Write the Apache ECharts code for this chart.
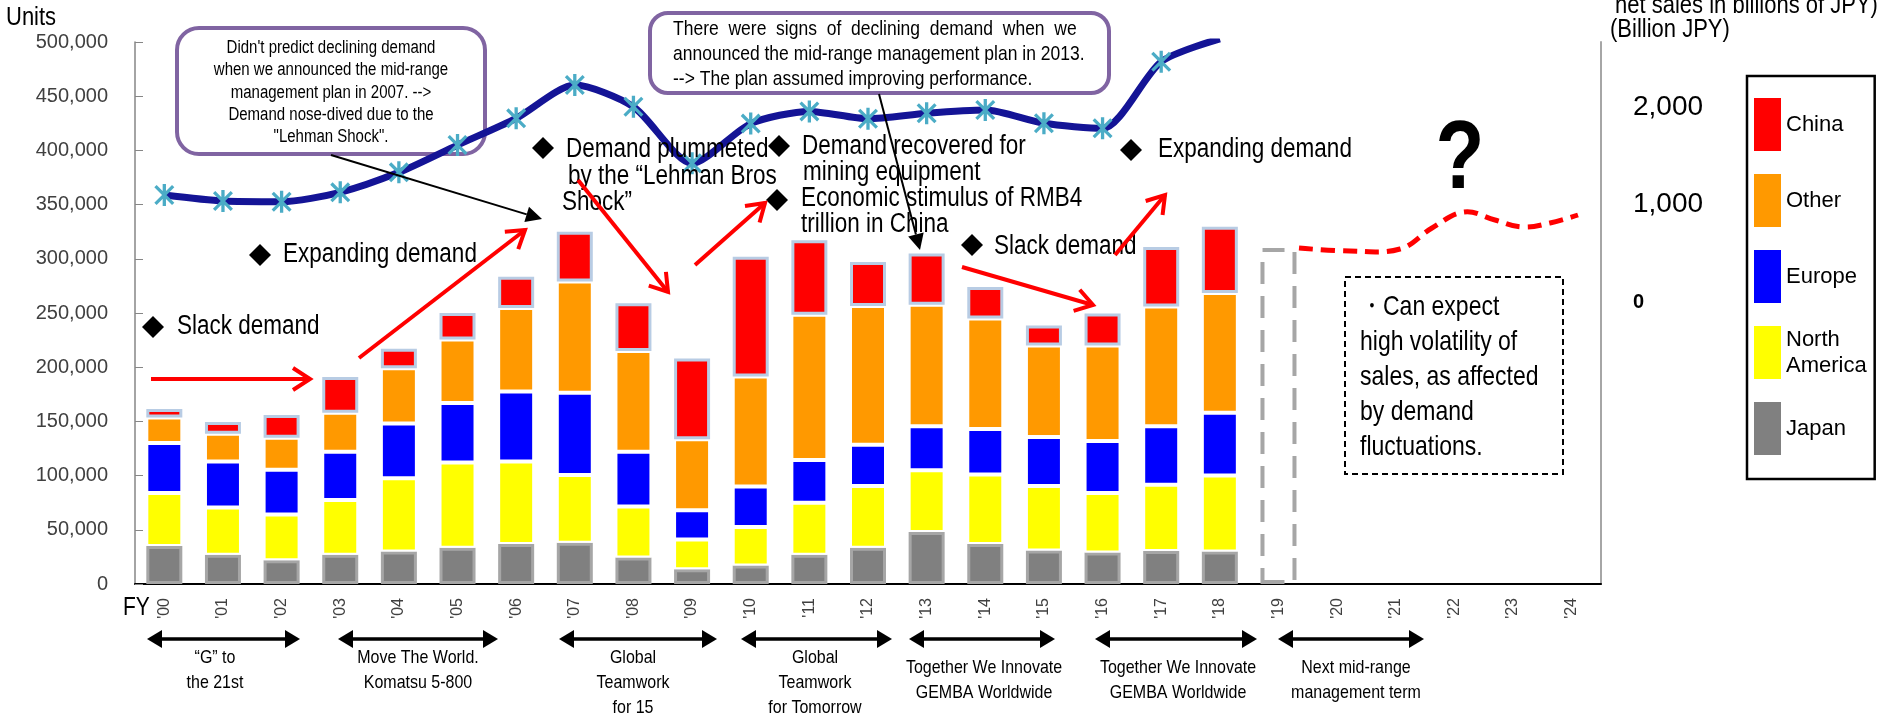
<!DOCTYPE html>
<html>
<head>
<meta charset="utf-8">
<script src="https://cdn.jsdelivr.net/npm/echarts@6/dist/echarts.min.js"></script>
<style>
  html, body { margin: 0; padding: 0; background: #fff; }
  #chart { width: 1880px; height: 717px; }
</style>
</head>
<body>
<div id="chart"></div>
<script>
// 年度(FY)
const years = ["'00", "'01", "'02", "'03", "'04", "'05", "'06", "'07", "'08", "'09", "'10", "'11", "'12",
    "'13", "'14", "'15", "'16", "'17", "'18", "'19", "'20", "'21", "'22", "'23", "'24"];

// 地区别销量 (units), FY00 - FY18
const japan = [35000, 27000, 22000, 27000, 30000, 33500, 37000, 38000, 24500, 13500, 17000, 27000, 33500, 48000, 37000, 31000, 29000, 30500, 30000];
const northAmerica = [49000, 43500, 42000, 50500, 67500, 78500, 76000, 62500, 47000, 27500, 35500, 48000, 57000, 57000, 64000, 59500, 55000, 61000, 70000];
const europe = [46000, 42500, 41500, 44500, 50500, 55000, 64500, 76000, 50500, 27000, 37500, 39500, 38000, 40500, 42000, 45000, 48000, 54000, 58000];
const other = [23500, 25500, 29500, 36000, 51000, 58500, 77000, 102500, 93000, 65500, 101500, 134000, 128000, 112000, 102000, 84500, 88000, 110500, 110500];
const china = [8000, 11000, 21000, 33000, 18000, 24500, 29000, 46000, 44000, 74500, 110500, 68500, 40500, 47500, 29000, 18500, 29500, 55000, 61000];
// FY19 虚线框
const fy19Outline = ['-', '-', '-', '-', '-', '-', '-', '-', '-', '-', '-', '-', '-', '-', '-', '-', '-', '-', '-', 310000];
// 销售额 (billion JPY)
const netSales = [1097, 1036, 1029, 1125, 1330, 1610, 1884, 2226, 2003, 1423, 1830, 1955, 1880, 1936, 1969, 1833, 1782, 2465, 2700];

const rightTicks = [0, 1000, 2000];

const FONT = "'Liberation Sans', Arial, sans-serif";
// 原图文字偏瘦高, 纵向拉伸一点
const SY = 1.2;

// 补齐到25个类别
function pad(arr) {
    return arr.concat(new Array(years.length - arr.length).fill('-'));
}

// ---------------- 注释图形 ----------------
const graphics = [];

function text(x, y, s, size, o) {
    o = o || {};
    if (o.lineHeight) o.lineHeight = o.lineHeight / SY;
    graphics.push({
        type: 'text', z: 10, x: x, y: y, scaleY: SY,
        style: Object.assign({
            text: s, fontSize: size, fontFamily: FONT, fill: '#000',
            align: 'left', verticalAlign: 'middle'
        }, o)
    });
}

function diamond(cx, cy) {
    graphics.push({
        type: 'polygon', z: 10,
        shape: {points: [[cx, cy - 11], [cx + 11, cy], [cx, cy + 11], [cx - 11, cy]]},
        style: {fill: '#000'}
    });
}

function head(x1, y1, x2, y2, len, half) {
    const a = Math.atan2(y2 - y1, x2 - x1);
    const bx = x2 - len * Math.cos(a), by = y2 - len * Math.sin(a);
    return {
        base: [bx, by],
        pts: [[bx + half * Math.sin(a), by - half * Math.cos(a)], [x2, y2], [bx - half * Math.sin(a), by + half * Math.cos(a)]]
    };
}

// 红色开口箭头
function redArrow(x1, y1, x2, y2) {
    const h = head(x1, y1, x2, y2, 17, 11);
    graphics.push({type: 'line', z: 10, shape: {x1: x1, y1: y1, x2: x2, y2: y2}, style: {stroke: '#ff0000', lineWidth: 4}});
    graphics.push({type: 'polyline', z: 10, shape: {points: h.pts}, style: {stroke: '#ff0000', lineWidth: 4, fill: null}});
}

// 黑色实心箭头
function blackArrow(x1, y1, x2, y2, w, len, half) {
    const h = head(x1, y1, x2, y2, len, half);
    graphics.push({type: 'line', z: 10, shape: {x1: x1, y1: y1, x2: h.base[0], y2: h.base[1]}, style: {stroke: '#000', lineWidth: w}});
    graphics.push({type: 'polygon', z: 10, shape: {points: h.pts}, style: {fill: '#000'}});
}

function doubleArrow(x1, x2, y) {
    blackArrow(x1 + 10, y, x2, y, 3, 15, 9);
    blackArrow(x2 - 10, y, x1, y, 3, 15, 9);
}

// 左上圆角框
graphics.push({
    type: 'rect', z: 1, shape: {x: 177, y: 28, width: 308, height: 126, r: 22},
    style: {fill: '#fff', stroke: '#8064A2', lineWidth: 4}
});
text(331, 37, "Didn't predict declining demand\nwhen we announced the mid-range\nmanagement plan in 2007. -->\nDemand nose-dived due to the\n\"Lehman Shock\".", 15,
    {align: 'center', verticalAlign: 'top', lineHeight: 22.3});

// 中间圆角框
graphics.push({
    type: 'rect', z: 1, shape: {x: 650, y: 13, width: 459, height: 80, r: 18},
    style: {fill: '#fff', stroke: '#8064A2', lineWidth: 4}
});
text(673, 29, 'There  were  signs  of  declining  demand  when  we', 17.5);
text(673, 54, 'announced the mid-range management plan in 2013.', 17.5);
text(673, 79, '--> The plan assumed improving performance.', 17.5);

blackArrow(331, 155, 542, 219, 2, 16, 8);
blackArrow(879, 94, 920, 250, 2, 16, 8);

// 菱形注释
diamond(153, 327); text(177, 327, 'Slack demand', 22.5);
diamond(260, 255); text(283, 255, 'Expanding demand', 22.5);
diamond(543, 148); text(566, 150, 'Demand plummeted', 22.5);
text(568, 177, 'by the \u201cLehman Bros', 22.5);
text(562, 203, 'Shock\u201d', 22.5);
diamond(779, 146); text(802, 147, 'Demand recovered for', 22.5);
text(803, 173, 'mining equipment', 22.5);
diamond(777, 200); text(801, 199, 'Economic stimulus of RMB4', 22.5);
text(801, 225, 'trillion in China', 22.5);
diamond(972, 245); text(994, 247, 'Slack demand', 22.5);
diamond(1131, 150); text(1158, 150, 'Expanding demand', 22.5);

// 红色箭头
[[151, 379, 310, 379], [359, 358, 525, 230], [578, 180, 668, 292],
    [695, 265, 765, 203], [962, 267, 1093, 305], [1115, 255, 1165, 195]].forEach(a => redArrow(a[0], a[1], a[2], a[3]));

// 未来的红色虚线
graphics.push({
    type: 'polyline', z: 10,
    shape: {points: [[1299, 248], [1350, 251], [1400, 249], [1432, 228], [1464, 212], [1495, 220], [1522, 227], [1550, 223], [1578, 215]], smooth: 0.4},
    style: {stroke: '#ff0000', lineWidth: 5, lineDash: [14, 8], fill: null}
});
text(1460, 162, '?', 80, {fontWeight: 'bold', align: 'center'});

// 虚线说明框
graphics.push({
    type: 'rect', z: 10, shape: {x: 1345, y: 277, width: 218, height: 197},
    style: {fill: null, stroke: '#000', lineWidth: 2, lineDash: [6, 4]}
});
text(1360, 290, '\u30fbCan expect\nhigh volatility of\nsales, as affected\nby demand\nfluctuations.', 23,
    {verticalAlign: 'top', lineHeight: 35});

// 轴标题
text(6, 18, 'Units', 22);
text(1615, 6, 'net sales in billions of JPY)', 22);
text(1610, 30, '(Billion JPY)', 22);
text(123, 608, 'FY', 21);

// 中期经营计划
const periods = [
    [147, 300, 215, ['\u201cG\u201d to', 'the 21st'], 658],
    [338, 498, 418, ['Move The World.', 'Komatsu 5-800'], 658],
    [559, 717, 633, ['Global', 'Teamwork', 'for 15'], 658],
    [741, 892, 815, ['Global', 'Teamwork', 'for Tomorrow'], 658],
    [909, 1055, 984, ['Together We Innovate', 'GEMBA Worldwide'], 668],
    [1095, 1257, 1178, ['Together We Innovate', 'GEMBA Worldwide'], 668],
    [1278, 1424, 1356, ['Next mid-range', 'management term'], 668]
];
periods.forEach(p => {
    doubleArrow(p[0], p[1], 639);
    text(p[2], p[4] - 12.5, p[3].join('\n'), 16, {align: 'center', verticalAlign: 'top', lineHeight: 25});
});

// 星号标记 (竖线 + X)
const starPath = 'path://M8.5,0L11.5,0L11.5,20L8.5,20Z M0.9,3.0L3.0,0.9L19.1,17.0L17.0,19.1Z M17.0,0.9L19.1,3.0L3.0,19.1L0.9,17.0Z';

const chart = echarts.init(document.getElementById('chart'));
const barCommon = {type: 'bar', stack: 'units', barWidth: 36};

chart.setOption({
    animation: false,
    textStyle: {fontFamily: FONT},
    grid: {left: 135, right: 279, top: 42, bottom: 133},
    legend: {
        data: ['China', 'Other', 'Europe', 'North America', 'Japan'],
        orient: 'vertical',
        left: 1747, top: 76,
        padding: [22, 8, 24, 7],
        itemWidth: 27, itemHeight: 53, itemGap: 23,
        icon: 'rect',
        itemStyle: {borderWidth: 0},
        borderColor: '#000', borderWidth: 2.5,
        formatter: n => n === 'North America' ? 'North\nAmerica' : n,
        textStyle: {fontSize: 22, color: '#000', fontFamily: FONT, lineHeight: 26}
    },
    xAxis: {
        type: 'category',
        data: years,
        axisLine: {lineStyle: {color: '#000', width: 2}},
        axisTick: {inside: true, length: 6, lineStyle: {color: '#000'}},
        axisLabel: {rotate: 90, interval: 0, fontSize: 16, color: '#404040', margin: 14, fontFamily: FONT}
    },
    yAxis: [{
        type: 'value', min: 0, max: 500000, interval: 50000,
        axisLine: {show: true, lineStyle: {color: '#868686', width: 1.5}},
        axisTick: {show: true, inside: true, length: 8, lineStyle: {color: '#868686'}},
        splitLine: {show: false},
        axisLabel: {
            fontSize: 20, color: '#404040', margin: 27, fontFamily: FONT,
            formatter: v => v.toLocaleString('en-US')
        }
    }, {
        type: 'value', position: 'right', min: -2892, max: 2667,
        axisLine: {show: true, lineStyle: {color: '#A6A6A6', width: 2}},
        axisTick: {show: false},
        splitLine: {show: false},
        axisLabel: {
            customValues: rightTicks,
            margin: 32, fontSize: 28, color: '#000', fontFamily: FONT,
            formatter: v => v === 0 ? '{z|0}' : v.toLocaleString('en-US'),
            rich: {z: {fontSize: 20, fontWeight: 'bold', fontFamily: FONT, color: '#000'}}
        }
    }],
    graphic: {elements: graphics},
    series: [
        Object.assign({name: 'Japan', data: pad(japan), itemStyle: {color: '#808080', borderColor: '#A6A6A6', borderWidth: 3}}, barCommon),
        Object.assign({name: 'North America', data: pad(northAmerica), itemStyle: {color: '#FFFF00', borderColor: '#fff', borderWidth: 2}}, barCommon),
        Object.assign({name: 'Europe', data: pad(europe), itemStyle: {color: '#0000FF', borderColor: '#fff', borderWidth: 2}}, barCommon),
        Object.assign({name: 'Other', data: pad(other), itemStyle: {color: '#FF9900', borderColor: '#fff', borderWidth: 2}}, barCommon),
        Object.assign({name: 'China', data: pad(china), itemStyle: {color: '#FF0000', borderColor: '#B8CCE4', borderWidth: 3}}, barCommon),
        Object.assign({
            name: 'FY19', data: pad(fy19Outline),
            itemStyle: {color: 'rgba(0,0,0,0)', borderColor: '#A6A6A6', borderWidth: 4, borderType: [22, 12]}
        }, barCommon),
        {
            name: 'Net sales', type: 'line', yAxisIndex: 1, data: netSales,
            smooth: 0.25, z: 5, clip: true,
            symbol: starPath, symbolSize: 22, symbolKeepAspect: true,
            itemStyle: {color: '#4BACC6'},
            lineStyle: {color: '#141496', width: 7}
        }
    ]
});
</script>
</body>
</html>
